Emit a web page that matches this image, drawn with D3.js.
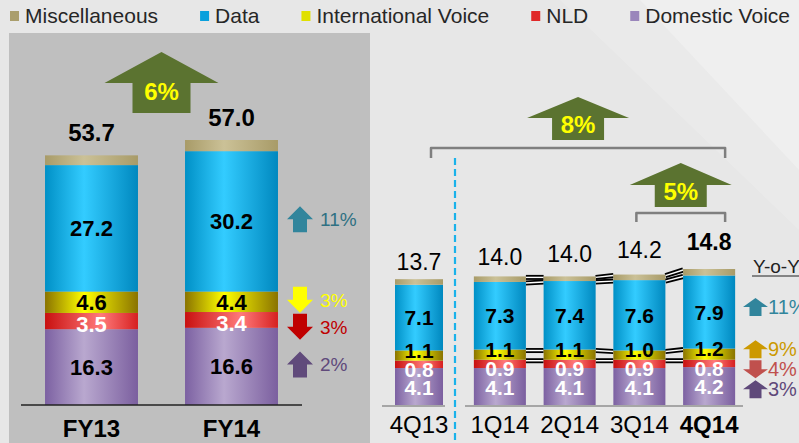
<!DOCTYPE html>
<html lang="en">
<head>
<meta charset="UTF-8">
<title>Revenue mix FY13 / FY14</title>
<script src="https://d3js.org/d3.v7.min.js"></script>
<style>
  body { margin: 0; background: #e8e8e8; }
  svg { display: block; font-family: "Liberation Sans", Arial, sans-serif; }
</style>
</head>
<body>
<script>
// ---- data ----
const seriesKeys = ["Domestic", "NLD", "Intl", "Data", "Misc"];           // bottom -> top
const seriesNames = ["Domestic Voice", "NLD", "International Voice", "Data", "Miscellaneous"];
const legendOrder = ["Misc", "Data", "Intl", "NLD", "Domestic"];

const fyCats = ["FY13", "FY14"];
const fyDomestic = [16.3, 16.6];
const fyNLD = [3.5, 3.4];
const fyIntl = [4.6, 4.4];
const fyData = [27.2, 30.2];
const fyMisc = [2.1, 2.4];
const fyTotal = [53.7, 57.0];
const fyGrowth = "6%";

const qCats = ["4Q13", "1Q14", "2Q14", "3Q14", "4Q14"];
const qDomestic = [4.1, 4.1, 4.1, 4.1, 4.2];
const qNLD = [0.8, 0.9, 0.9, 0.9, 0.8];
const qIntl = [1.1, 1.1, 1.1, 1.0, 1.2];
const qData = [7.1, 7.3, 7.4, 7.6, 7.9];
const qMisc = [0.6, 0.6, 0.5, 0.6, 0.7];
const qTotal = [13.7, 14.0, 14.0, 14.2, 14.8];
const qGrowthYear = "8%";
const qGrowthQuarter = "5%";

// change markers, top -> bottom: Data, Intl, NLD, Domestic
const changeKeys = ["Data", "Intl", "NLD", "Domestic"];
const fyChange = ["11%", "3%", "3%", "2%"];
const fyChangeDir = ["up", "down", "down", "up"];
const qChange = ["11%", "9%", "4%", "3%"];
const qChangeDir = ["up", "up", "down", "up"];

// ---- styles ----
const grad = {
  Misc:     ["#a89b68", "#cbc197", "#a89b68"],
  Data:     ["#0090c6", "#33ccff", "#0088bf"],
  Intl:     ["#8a7300", "#ffff00", "#8a7300"],
  NLD:      ["#c81010", "#ff7a7a", "#d62020"],
  Domestic: ["#7c61a2", "#b9a8cf", "#7b5f9f"]
};
const legendColor = { Misc: "#aa9e6c", Data: "#0aa0dc", Intl: "#e0e000", NLD: "#e02828", Domestic: "#9a86bb" };
const fyArrowColor = { Data: "#31859c", Intl: "#ffff00", NLD: "#c00000", Domestic: "#604a7b" };
const fyTextColor = { Data: "#2f7183", Intl: "#ffff00", NLD: "#c00000", Domestic: "#604a7b" };
const qArrowColor = { Data: "#31859c", Intl: "#cc9900", NLD: "#c0504d", Domestic: "#5f497a" };
const bigArrowColor = "#5b7330";

const W = 799, H = 443;
const svg = d3.select("body").append("svg").attr("width", W).attr("height", H);
const defs = svg.append("defs");

seriesKeys.forEach(k => {
  const g = defs.append("linearGradient").attr("id", "g-" + k)
    .attr("x1", 0).attr("x2", 1).attr("y1", 0).attr("y2", 0);
  g.append("stop").attr("offset", "0%").attr("stop-color", grad[k][0]);
  g.append("stop").attr("offset", k === "NLD" ? "60%" : "42%").attr("stop-color", grad[k][1]);
  g.append("stop").attr("offset", "100%").attr("stop-color", grad[k][2]);
});

// background
svg.append("rect").attr("width", W).attr("height", H).attr("fill", "#e7e7e7");
svg.append("polygon").attr("points", "640,0 799,0 799,170").attr("fill", "#fff").attr("opacity", 0.35);
svg.append("polygon").attr("points", "560,0 640,0 799,170 799,230").attr("fill", "#fff").attr("opacity", 0.15);
svg.append("rect").attr("x", 9).attr("y", 33).attr("width", 361).attr("height", H - 33).attr("fill", "#bfbfbf");

// ---- legend ----
const legend = svg.append("g").attr("font-size", 21).attr("fill", "#262626");
let lx = 10;
legendOrder.forEach(k => {
  legend.append("rect").attr("x", lx).attr("y", 11).attr("width", 9).attr("height", 10)
    .attr("fill", legendColor[k]);
  const t = legend.append("text").attr("x", lx + 15).attr("y", 23)
    .text(seriesNames[seriesKeys.indexOf(k)]);
  lx += 15 + t.node().getComputedTextLength() + 42;
});

// helpers
function rows(cats, arrs) {
  return cats.map((c, i) => {
    const r = { cat: c };
    seriesKeys.forEach((k, j) => r[k] = arrs[j][i]);
    return r;
  });
}
const stack = d3.stack().keys(seriesKeys);

function blockArrow(g, cx, cy, w, h, headH, shaftW, dir, fill) {
  const s = dir === "up" ? 1 : -1;
  const top = cy - s * h / 2, bot = cy + s * h / 2, neck = top + s * headH;
  const pts = [[cx, top], [cx + w / 2, neck], [cx + shaftW / 2, neck], [cx + shaftW / 2, bot],
    [cx - shaftW / 2, bot], [cx - shaftW / 2, neck], [cx - w / 2, neck]];
  g.append("polygon").attr("points", pts.map(p => p.join(",")).join(" ")).attr("fill", fill);
}

function bigArrow(cx, tip, w, headH, shaftW, shaftH, label) {
  const g = svg.append("g");
  const neck = tip + headH, bot = neck + shaftH;
  const pts = [[cx, tip], [cx + w / 2, neck], [cx + shaftW / 2, neck], [cx + shaftW / 2, bot],
    [cx - shaftW / 2, bot], [cx - shaftW / 2, neck], [cx - w / 2, neck]];
  g.append("polygon").attr("points", pts.map(p => p.join(",")).join(" ")).attr("fill", bigArrowColor);
  g.append("text").attr("x", cx).attr("y", neck + shaftH * 0.3).attr("dy", "0.35em")
    .attr("text-anchor", "middle").attr("font-size", 24).attr("font-weight", "bold")
    .attr("fill", "#ffff00").text(label);
}

// ---- left panel: FY ----
const fyRows = rows(fyCats, [fyDomestic, fyNLD, fyIntl, fyData, fyMisc]);
const fyStack = stack(fyRows);
const xL = d3.scaleBand().domain(fyCats).range([21.5, 301.5]).paddingInner(0.336).paddingOuter(0.168);
const yL = d3.scaleLinear().domain([0, 57]).range([405, 140]);

const left = svg.append("g");
fyStack.forEach(layer => {
  const k = layer.key;
  left.selectAll(null).data(layer).join("rect")
    .attr("x", d => xL(d.data.cat)).attr("width", xL.bandwidth())
    .attr("y", d => yL(d[1])).attr("height", d => yL(d[0]) - yL(d[1]))
    .attr("fill", `url(#g-${k})`);
  if (k === "Misc") return;
  left.selectAll(null).data(layer).join("text")
    .attr("x", d => xL(d.data.cat) + xL.bandwidth() / 2)
    .attr("y", d => yL((d[0] + d[1]) / 2)).attr("dy", k === "NLD" ? "0.5em" : "0.36em")
    .attr("text-anchor", "middle").attr("font-size", 22).attr("font-weight", "bold")
    .attr("fill", k === "NLD" ? "#fff" : "#000")
    .text(d => d.data[k].toFixed(1));
});
left.append("line").attr("x1", 21).attr("x2", 302).attr("y1", yL(0)).attr("y2", yL(0))
  .attr("stroke", "#222").attr("stroke-width", 1.5);
left.selectAll(null).data(fyCats).join("text")
  .attr("x", d => xL(d) + xL.bandwidth() / 2).attr("y", 437)
  .attr("text-anchor", "middle").attr("font-size", 24).attr("font-weight", "bold")
  .text(d => d);
left.selectAll(null).data(fyTotal).join("text")
  .attr("x", (d, i) => xL(fyCats[i]) + xL.bandwidth() / 2).attr("y", d => yL(d) - 14)
  .attr("text-anchor", "middle").attr("font-size", 24).attr("font-weight", "bold")
  .text(d => d.toFixed(1));

bigArrow((xL(fyCats[0]) + xL(fyCats[1]) + xL.bandwidth()) / 2, 52, 114, 31, 58, 30, fyGrowth);

// change markers next to FY14 bar, centred on segments and pushed apart
function markerCenters(stackData, yScale, idx, minGap, shift) {
  const mids = changeKeys.map(k => {
    const d = stackData.find(l => l.key === k)[idx];
    return yScale((d[0] + d[1]) / 2);
  });
  for (let i = 1; i < mids.length; i++) mids[i] = Math.max(mids[i], mids[i - 1] + minGap);
  return mids.map(m => m + shift);
}
const fyMarks = markerCenters(fyStack, yL, 1, 27, -2);
const fyMarkG = svg.append("g");
changeKeys.forEach((k, i) => {
  blockArrow(fyMarkG, 300, fyMarks[i], 26, 26, 13, 14, fyChangeDir[i], fyArrowColor[k]);
  fyMarkG.append("text").attr("x", 320).attr("y", fyMarks[i]).attr("dy", "0.36em")
    .attr("font-size", 19).attr("fill", fyTextColor[k]).text(fyChange[i]);
});

// ---- right panel: quarters ----
const qRows = rows(qCats, [qDomestic, qNLD, qIntl, qData, qMisc]);
const qStack = stack(qRows);
const xPrev = d3.scaleBand().domain(qCats.slice(0, 1)).range([395, 443]);
const xQ = d3.scaleBand().domain(qCats.slice(1)).range([465, 744]).paddingInner(0.254).paddingOuter(0.127);
const qx = c => c === qCats[0] ? xPrev(c) : xQ(c);
const qw = c => c === qCats[0] ? xPrev.bandwidth() : xQ.bandwidth();
const yR = d3.scaleLinear().domain([0, 14.8]).range([406, 269]);

const right = svg.append("g");

// connector lines between the 2014 quarters
const bounds = ["Misc", "Data", "Intl", "NLD"]; // top edges of these layers
const conn = [];
for (let i = 1; i < qCats.length - 1; i++) {
  bounds.forEach(k => {
    const a = qStack.find(l => l.key === k)[i], b = qStack.find(l => l.key === k)[i + 1];
    conn.push({ x1: qx(qCats[i]) + qw(qCats[i]), x2: qx(qCats[i + 1]), y1: yR(a[1]), y2: yR(b[1]) });
  });
}
right.selectAll(null).data(conn).join("line")
  .attr("x1", d => d.x1).attr("x2", d => d.x2).attr("y1", d => d.y1 + 1).attr("y2", d => d.y2 + 1)
  .attr("stroke", "#000").attr("stroke-width", 5);
right.selectAll(null).data(conn).join("line")
  .attr("x1", d => d.x1).attr("x2", d => d.x2).attr("y1", d => d.y1 + 1).attr("y2", d => d.y2 + 1)
  .attr("stroke", "#fff").attr("stroke-width", 1.4);

qStack.forEach(layer => {
  const k = layer.key;
  right.selectAll(null).data(layer).join("rect")
    .attr("x", d => qx(d.data.cat)).attr("width", d => qw(d.data.cat))
    .attr("y", d => yR(d[1])).attr("height", d => yR(d[0]) - yR(d[1]))
    .attr("fill", `url(#g-${k})`);
});
qStack.forEach(layer => {
  const k = layer.key;
  if (k === "Misc") return;
  const dy = { Data: "0.36em", Intl: "0.1em", NLD: "0.6em", Domestic: "0.36em" }[k];
  right.selectAll(null).data(layer).join("text")
    .attr("x", d => qx(d.data.cat) + qw(d.data.cat) / 2)
    .attr("y", d => yR((d[0] + d[1]) / 2)).attr("dy", dy)
    .attr("text-anchor", "middle").attr("font-size", 21).attr("font-weight", "bold")
    .attr("fill", k === "NLD" || k === "Domestic" ? "#fff" : "#000")
    .text(d => d.data[k].toFixed(1));
});

right.append("line").attr("x1", 382).attr("x2", 445).attr("y1", yR(0)).attr("y2", yR(0))
  .attr("stroke", "#a6a6a6").attr("stroke-width", 2);
right.append("line").attr("x1", 465).attr("x2", 743).attr("y1", yR(0)).attr("y2", yR(0))
  .attr("stroke", "#a6a6a6").attr("stroke-width", 2);

const last = qCats.length - 1;
right.selectAll(null).data(qCats).join("text")
  .attr("x", d => qx(d) + qw(d) / 2).attr("y", 433)
  .attr("text-anchor", "middle").attr("font-size", 24)
  .attr("font-weight", (d, i) => i === last ? "bold" : "normal")
  .text(d => d);
right.selectAll(null).data(qTotal).join("text")
  .attr("x", (d, i) => qx(qCats[i]) + qw(qCats[i]) / 2)
  .attr("y", (d, i) => yR(d) - 9 - i * 2.5)
  .attr("text-anchor", "middle").attr("font-size", 23)
  .attr("font-weight", (d, i) => i === last ? "bold" : "normal")
  .text(d => d.toFixed(1));

// separator
const sepX = (xPrev.range()[1] + xQ.range()[0]) / 2 + 1;
svg.append("line").attr("x1", sepX).attr("x2", sepX).attr("y1", 158).attr("y2", H)
  .attr("stroke", "#1ab2ea").attr("stroke-width", 2.2).attr("stroke-dasharray", "7,4");

// brackets + growth arrows
function bracket(x1, x2, y, drop) {
  svg.append("path").attr("d", `M${x1},${y + drop}V${y}H${x2}V${y + drop}`)
    .attr("fill", "none").attr("stroke", "#7f7f7f").attr("stroke-width", 2.5)
    .attr("stroke-linejoin", "round");
}
const cx = c => qx(c) + qw(c) / 2;
const bx1 = cx(qCats[0]) + 12, bx2 = cx(qCats[last]) + 16;
bracket(bx1, bx2, 148, 10);
bigArrow((bx1 + bx2) / 2, 97, 102, 21, 52, 22, qGrowthYear);
const sx1 = cx(qCats[last - 1]) - 3;
bracket(sx1, bx2, 213, 9);
bigArrow((sx1 + bx2) / 2, 163, 102, 22, 52, 22, qGrowthQuarter);

// Y-o-Y markers
const yoy = svg.append("g");
yoy.append("text").attr("x", 753).attr("y", 273).attr("font-size", 19).attr("fill", "#222").text("Y-o-Y");
yoy.append("line").attr("x1", 752).attr("x2", W).attr("y1", 276).attr("y2", 276)
  .attr("stroke", "#222").attr("stroke-width", 1);
const qMarks = markerCenters(qStack, yR, last, 20, -5);
changeKeys.forEach((k, i) => {
  blockArrow(yoy, 755.5, qMarks[i], 25, 18, 9, 12, qChangeDir[i], qArrowColor[k]);
  yoy.append("text").attr("x", 768).attr("y", qMarks[i]).attr("dy", "0.36em")
    .attr("font-size", 20).attr("fill", qArrowColor[k]).text(qChange[i]);
});
</script>
</body>
</html>
